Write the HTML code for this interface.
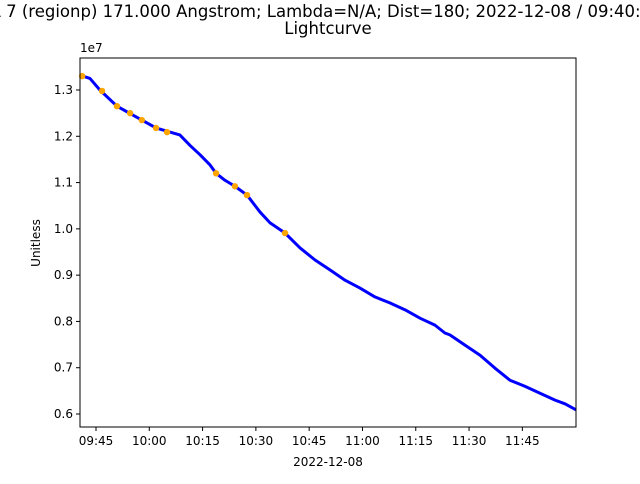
<!DOCTYPE html>
<html><head><meta charset="utf-8"><style>
body{margin:0;background:#fff;font-family:"DejaVu Sans","Liberation Sans",sans-serif}
</style></head><body>
<svg width="640" height="480" xmlns="http://www.w3.org/2000/svg" font-family="DejaVu Sans, Liberation Sans, sans-serif">
<rect width="640" height="480" fill="#fff"/>
<text x="307" y="17" font-size="16.5" text-anchor="middle">AIA 7 (regionp) 171.000 Angstrom; Lambda=N/A; Dist=180; 2022-12-08 / 09:40:</text>
<text x="328" y="34" font-size="16.5" text-anchor="middle">Lightcurve</text>
<g id="plot"></g>
<rect x="80" y="58" width="496" height="369" fill="none" stroke="#000" stroke-width="1"/>
<text x="80" y="52" font-size="12">1e7</text>
<text transform="translate(40,243) rotate(-90)" font-size="12" text-anchor="middle">Unitless</text>
<text x="328" y="466" font-size="12" text-anchor="middle">2022-12-08</text>
</svg>
<script>
const lineTimes=[0.5,3.3,6.1,10.9,17.9,21.9,25.8,28.6,31.5,34.3,37.1,38.8,41.3,44.1,47.5,51.2,54.0,58.2,62.4,66.6,70.9,75.1,79.3,83.5,87.7,92.0,96.2,100.4,103.2,104.6,108.8,113.1,117.3,121.5,125.7,129.9,134.2,137.0,140.1];
const lineValues=[1.332,1.325,1.30,1.265,1.235,1.218,1.209,1.203,1.18,1.16,1.138,1.12,1.105,1.092,1.073,1.036,1.013,0.991,0.959,0.933,0.911,0.889,0.872,0.853,0.84,0.825,0.807,0.792,0.775,0.771,0.749,0.727,0.699,0.673,0.66,0.645,0.63,0.622,0.609];
const dotTimes=[1.1,6.7,10.9,14.6,17.9,21.9,25.0,38.8,44.1,47.5,58.2];
const dotValues=[1.33,1.298,1.265,1.25,1.235,1.218,1.209,1.12,1.092,1.073,0.991];
const xTickMinutes=[5,20,35,50,65,80,95,110,125];
const xTickLabels=["09:45","10:00","10:15","10:30","10:45","11:00","11:15","11:30","11:45"];
const yTickValues=[0.6,0.7,0.8,0.9,1.0,1.1,1.2,1.3];
const yTickLabels=["0.6","0.7","0.8","0.9","1.0","1.1","1.2","1.3"];
const NS="http://www.w3.org/2000/svg";
const X=m=>80+(m-0.5)/(140.1-0.5)*496;
const Y=v=>414-(v-0.6)/0.7*324;
const g=document.getElementById('plot');
function mk(t,a){const e=document.createElementNS(NS,t);for(const k in a)e.setAttribute(k,a[k]);g.appendChild(e);return e;}
const pl=mk('polyline',{points:lineTimes.map((t,i)=>X(t)+','+Y(lineValues[i])).join(' '),fill:'none',stroke:'#0000ff','stroke-width':3,'stroke-linejoin':'round'});


dotTimes.forEach((t,i)=>{const c=mk('circle',{cx:X(t),cy:Y(dotValues[i]),r:3.2,fill:'#ffa500'});

});
xTickMinutes.forEach((m,i)=>{const x=X(m);mk('line',{x1:x,x2:x,y1:427,y2:431,stroke:'#000'});
const t=mk('text',{x:x,y:445,'font-size':12,'text-anchor':'middle'});t.textContent=xTickLabels[i];

});
yTickValues.forEach((v,i)=>{const y=Y(v);mk('line',{x1:76,x2:80,y1:y,y2:y,stroke:'#000'});
const t=mk('text',{x:73,y:y+4,'font-size':12,'text-anchor':'end'});t.textContent=yTickLabels[i];

});
</script>
</body></html>
